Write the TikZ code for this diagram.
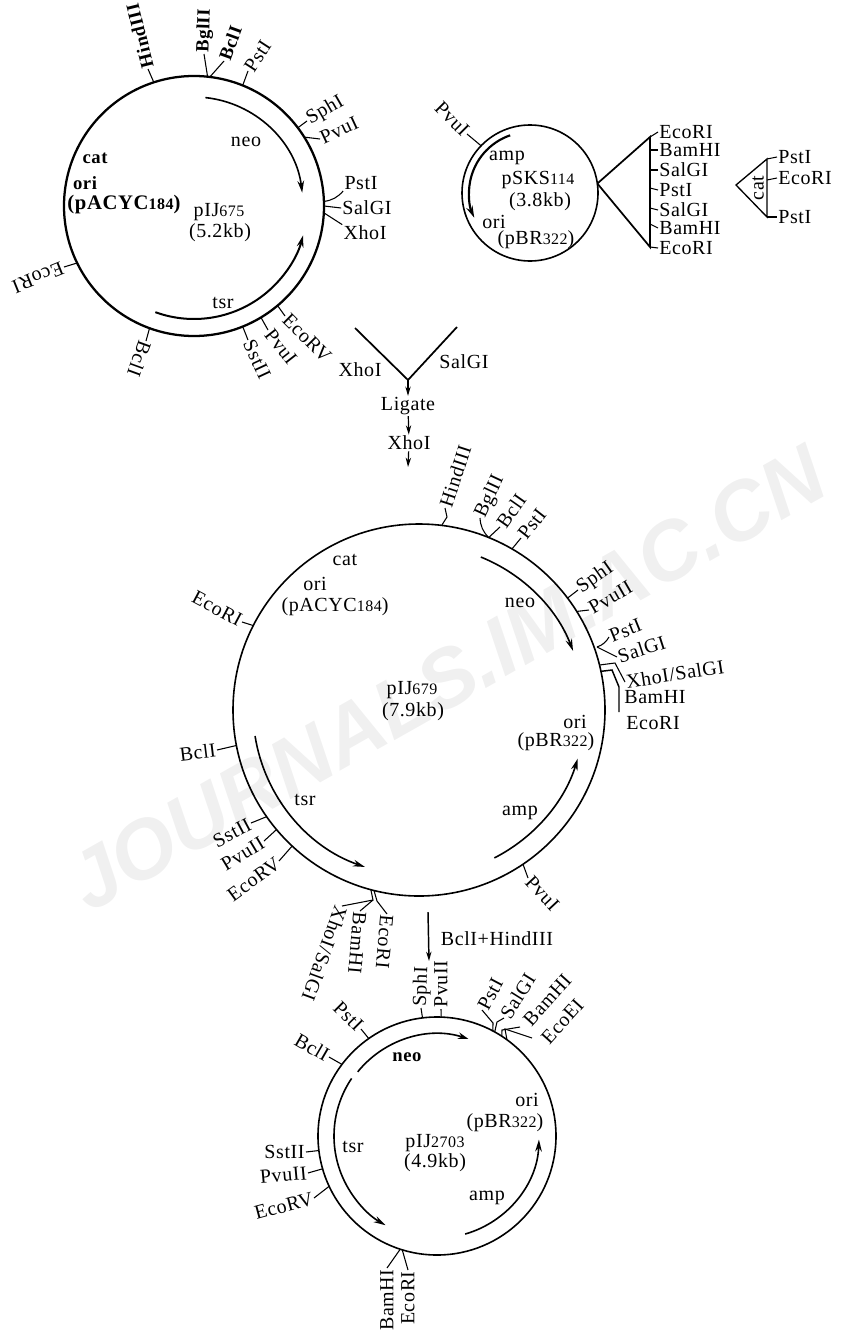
\documentclass[tikz,border=0pt]{standalone}
\usepackage{fontspec}
\setmainfont[LetterSpace=3]{Liberation Serif}
\newfontfamily\wmfont{Liberation Sans}
\usepackage{tikz}
\usetikzlibrary{arrows.meta}

\newcommand{\lowdig}[1]{{\fontsize{12}{12}\selectfont #1}}

\tikzset{
  plasmid/.style={draw, circle, outer sep=0pt, inner sep=0pt, line width=1.2pt},
  site/.style={inner sep=1pt, outer sep=0pt, font=\fontsize{15}{16}\selectfont},
  boldsite/.style={site, font=\fontsize{14}{16}\selectfont\bfseries},
  tick/.style={line width=0.8pt},
  gene/.style={-{Stealth[length=9pt,width=5pt]}, line width=1.2pt},
  stemarrow/.style={-{Stealth[length=7pt,width=4pt]}, line width=0.9pt},
}

\begin{document}
\begin{tikzpicture}[x=0.75pt, y=0.75pt]
  \useasboundingbox (0,0) rectangle (841,-1338);
  \node[rotate=29.5, text=black!6, inner sep=0pt, font=\wmfont\fontsize{62}{62}\selectfont\bfseries\itshape] (wm) at (447,-678) {JOURNALS.IM.AC.CN};

  % pIJ675
  \node[plasmid, line width=1.7pt, minimum size=195pt] (P1) at (194,-206) {};
  \node[boldsite, rotate=104, anchor=west] (P1hind) at (148,-69) {HindIII};
  \node[boldsite, rotate=88, anchor=west] (P1bgl) at (204,-54) {BglII};
  \node[boldsite, rotate=70, anchor=west] (P1bcl) at (224,-61) {BclI};
  \node[site, rotate=57, anchor=west] (P1pst) at (248,-71) {PstI};
  \node[site, rotate=30, anchor=west] (P1sph) at (307,-121) {SphI};
  \node[site, rotate=25, anchor=west] (P1pvu) at (320,-139) {PvuI};
  \node[site] (P1pstb) at (361,-183) {PstI};
  \node[site] (P1sal) at (367,-208) {SalGI};
  \node[site] (P1xho) at (365,-233) {XhoI};
  \node[site, rotate=-45, anchor=west] (P1ecov) at (285,-316) {EcoRV};
  \node[site, rotate=-52, anchor=west] (P1pvub) at (268,-330) {PvuI};
  \node[site, rotate=-65, anchor=west] (P1sst) at (248,-340) {SstII};
  \node[site, rotate=250, anchor=west] (P1bclb) at (146,-341) {BclI};
  \node[site, rotate=202, anchor=west] (P1eco) at (64,-267) {EcoRI};
  \draw[tick] (P1.108) -- (P1hind.west);
  \draw[tick] (P1.84) -- (P1bgl.west);
  \draw[tick] (P1.83) -- (P1bcl.west);
  \draw[tick] (P1.68) -- (P1pst.west);
  \draw[tick] (P1.37) -- (P1sph.west);
  \draw[tick] (P1.32) -- (P1pvu.west);
  \draw[tick] (P1.2) to[bend right=20] (P1pstb.south west);
  \draw[tick] (P1.0) -- (P1sal.west);
  \draw[tick] (P1.-3) -- (P1xho.north west);
  \draw[tick] (P1.-50) -- (P1ecov.west);
  \draw[tick] (P1.-59) -- (P1pvub.west);
  \draw[tick] (P1.-68) -- (P1sst.west);
  \draw[tick] (P1.250) -- (P1bclb.west);
  \draw[tick] (P1.206) -- (P1eco.west);
  \draw[gene] ([shift={(84:109)}]P1.center) arc[start angle=84, end angle=7, radius=109];
  \draw[gene, line width=1.5pt] ([shift={(250:113)}]P1.center) arc[start angle=250, end angle=345, radius=113];
  \node[site] (P1neo) at (246,-142) {neo};
  \node[site] (P1tsr) at (223,-303) {tsr};
  \node[boldsite] (P1cat) at (95,-158) {cat};
  \node[boldsite] (P1ori) at (85,-183) {ori};
  \node[boldsite, font=\fontsize{15.5}{16}\selectfont\bfseries] (P1rep) at (124,-205) {(pACYC\lowdig{184})};
  \node[site] (P1name) at (219,-212) {pIJ\lowdig{675}};
  \node[site] (P1size) at (220,-233) {(5.2kb)};

  % pSKS114
  \node[plasmid, minimum size=102pt] (P2) at (530,-193) {};
  \node[site, rotate=-45, anchor=east] (P2pvu) at (467,-134) {PvuI};
  \draw[tick] (P2.136) -- (P2pvu.east);
  \draw[gene, line width=1.6pt] ([shift={(109:61)}]P2.center) arc[start angle=109, end angle=204, radius=61];
  \node[site] (P2amp) at (507,-158) {amp};
  \node[site] (P2name) at (538,-180) {pSKS\lowdig{114}};
  \node[site] (P2size) at (540,-202) {(3.8kb)};
  \node[site] (P2ori) at (494,-222) {ori};
  \node[site] (P2rep) at (536,-240) {(pBR\lowdig{322})};

  % polylinker of pSKS114
  \coordinate (M1) at (650,-137);
  \coordinate (M2) at (650,-150);
  \coordinate (M3) at (650,-170);
  \coordinate (M4) at (650,-188);
  \coordinate (M5) at (650,-208);
  \coordinate (M6) at (650,-224);
  \coordinate (M7) at (650,-247);
  \node[site, anchor=west] (M1t) at (658,-132) {EcoRI};
  \node[site, anchor=west] (M2t) at (658,-150) {BamHI};
  \node[site, anchor=west] (M3t) at (658,-170) {SalGI};
  \node[site, anchor=west] (M4t) at (658,-190) {PstI};
  \node[site, anchor=west] (M5t) at (658,-210) {SalGI};
  \node[site, anchor=west] (M6t) at (658,-228) {BamHI};
  \node[site, anchor=west] (M7t) at (658,-248) {EcoRI};
  \draw[line width=1.3pt] (P2.8) -- (M1) -- (M7) -- (P2.8);
  \draw[tick] (M1) -- (M1t.west);
  \draw[tick] (M2) -- (M2t.west);
  \draw[tick] (M3) -- (M3t.west);
  \draw[tick] (M4) -- (M4t.west);
  \draw[tick] (M5) -- (M5t.west);
  \draw[tick] (M6) -- (M6t.west);
  \draw[tick] (M7) -- (M7t.west);

  % cat cassette
  \coordinate (C0) at (736,-185);
  \coordinate (C1) at (767,-159);
  \coordinate (C2) at (767,-180);
  \coordinate (C3) at (767,-217);
  \node[site, anchor=west] (C1t) at (777,-157) {PstI};
  \node[site, anchor=west] (C2t) at (777,-178) {EcoRI};
  \node[site, anchor=west] (C3t) at (777,-217) {PstI};
  \node[site, rotate=90] (Ccat) at (758,-188) {cat};
  \draw[line width=1.0pt] (C0) -- (C1) -- (C3) -- cycle;
  \draw[tick] (C1) -- (C1t.west);
  \draw[tick] (C2) -- (C2t.west);
  \draw[tick] (C3) -- (C3t.west);

  % ligation
  \coordinate (Lapex) at (408,-380);
  \coordinate (Lleft) at (355,-328);
  \coordinate (Lright) at (457,-327);
  \coordinate (Lend) at (408,-467);
  \node[site] (Lxhoa) at (360,-370) {XhoI};
  \node[site] (Lsal) at (464,-362) {SalGI};
  \node[site] (Llig) at (408,-406) {Ligate};
  \node[site] (Lxhob) at (409,-443) {XhoI};
  \draw[line width=1.3pt] (Lleft) -- (Lapex) -- (Lright);
  \draw[stemarrow] (Lapex) -- (Llig);
  \draw[stemarrow] (Llig) -- (Lxhob);
  \draw[stemarrow] (Lxhob) -- (Lend);

  % pIJ679
  \node[plasmid, minimum size=279pt] (P3) at (419,-710) {};
  \node[site, rotate=72, anchor=west] (P3hind) at (445,-508) {HindIII};
  \node[site, rotate=65, anchor=west] (P3bgl) at (480,-518) {BglII};
  \node[site, rotate=55, anchor=west] (P3bcl) at (500,-527) {BclI};
  \node[site, rotate=52, anchor=west] (P3pst) at (521,-538) {PstI};
  \node[site, rotate=35, anchor=west] (P3sph) at (578,-590) {SphI};
  \node[site, rotate=30, anchor=west] (P3pvu) at (589,-610) {PvuII};
  \node[site, rotate=22, anchor=west] (P3pstb) at (609,-637) {PstI};
  \node[site, rotate=18, anchor=west] (P3sal) at (617,-657) {SalGI};
  \node[site, rotate=9, anchor=west] (P3xho) at (625,-682) {XhoI/SalGI};
  \node[site, anchor=west] (P3bam) at (623,-697) {BamHI};
  \node[site, anchor=west] (P3ecob) at (625,-723) {EcoRI};
  \node[site, rotate=-47, anchor=west] (P3pvub) at (528,-878) {PvuI};
  \node[site, rotate=-28, anchor=east] (P3eco) at (242,-622) {EcoRI};
  \node[site, rotate=7, anchor=east] (P3bcl2) at (217,-750) {BclI};
  \node[site, rotate=28, anchor=east] (P3sst) at (251,-823) {SstII};
  \node[site, rotate=31, anchor=east] (P3pvuc) at (264,-841) {PvuII};
  \node[site, rotate=36, anchor=east] (P3ecov) at (279,-861) {EcoRV};
  \node[site, rotate=-110, anchor=west] (P3xhob) at (342,-906) {XhoI/SalGI};
  \node[site, rotate=-95, anchor=west] (P3bamb) at (360,-911) {BamHI};
  \node[site, rotate=-95, anchor=west] (P3ecoc) at (387,-914) {EcoRI};
  \coordinate (P3j) at (373,-900);
  \coordinate (P3k) at (377,-901);
  \coordinate (P3sj) at (597,-647);
  \coordinate (P3xa) at (615,-663);
  \coordinate (P3ba) at (612,-670);
  \coordinate (P3bb) at (619,-687);
  \coordinate (P3bc) at (619,-712);
  \draw[tick] (P3.83) -- (447,-517) -- (P3hind.west);
  \draw[tick] (P3.68.5) to[bend left=20] (P3bgl.west);
  \draw[tick] (P3.68.5) -- (P3bcl.west);
  \draw[tick] (P3.60) -- (P3pst.west);
  \draw[tick] (P3.37) -- (P3sph.west);
  \draw[tick] (P3.32) -- (P3pvu.west);
  \draw[tick] (P3sj) to[bend right=20] (P3pstb.west);
  \draw[tick] (P3sj) -- (P3sal.west);
  \draw[tick] (P3.14) -- (P3xa) -- (P3xho.west);
  \draw[line width=1.1pt] (P3.12) -- (P3ba) -- (P3bb) -- (P3bc);
  \draw[tick] (P3.-56) -- (P3pvub.west);
  \draw[tick] (P3.153) -- (P3eco.east);
  \draw[tick] (P3.191) -- (P3bcl2.east);
  \draw[tick] (P3.215) -- (P3sst.east);
  \draw[tick] (P3.220) -- (P3pvuc.east);
  \draw[tick] (P3.227) -- (P3ecov.east);
  \draw[tick] (P3.255.7) -- (P3j) -- (P3xhob.west);
  \draw[tick] (P3j) -- (P3bamb.west);
  \draw[tick] (P3.256.6) -- (P3k) -- (P3ecoc.west);
  \draw[gene] ([shift={(68:165)}]P3.center) arc[start angle=68, end angle=21, radius=165];
  \draw[gene] ([shift={(189:166)}]P3.center) arc[start angle=189, end angle=251, radius=166];
  \draw[gene] ([shift={(-63:166)}]P3.center) arc[start angle=-63, end angle=-17, radius=166];
  \node[site] (P3cat) at (345,-560) {cat};
  \node[site] (P3ori) at (315,-584) {ori};
  \node[site] (P3rep) at (335,-607) {(pACYC\lowdig{184})};
  \node[site] (P3name) at (412,-690) {pIJ\lowdig{679}};
  \node[site] (P3size) at (413,-712) {(7.9kb)};
  \node[site] (P3neo) at (520,-603) {neo};
  \node[site] (P3tsr) at (305,-800) {tsr};
  \node[site] (P3oria) at (575,-722) {ori};
  \node[site] (P3repb) at (556,-742) {(pBR\lowdig{322})};
  \node[site] (P3amp) at (520,-813) {amp};

  % digest
  \coordinate (Dtop) at (428,-912);
  \coordinate (Dend) at (429,-961);
  \node[site] (Dtxt) at (497,-939) {BclI+HindIII};
  \draw[stemarrow, line width=1.1pt] (Dtop) -- (Dend);

  % pIJ2703
  \node[plasmid, minimum size=178.5pt] (P4) at (437,-1136) {};
  \node[site, rotate=-30, anchor=east] (P4bcl) at (329,-1057) {BclI};
  \node[site, rotate=-45, anchor=east] (P4pst) at (361,-1029) {PstI};
  \node[site, rotate=88, anchor=west] (P4sph) at (421,-1008) {SphI};
  \node[site, rotate=90, anchor=west] (P4pvu) at (441,-1009) {PvuII};
  \node[site, rotate=62, anchor=west] (P4pstb) at (482,-1010) {PstI};
  \node[site, rotate=58, anchor=west] (P4sal) at (504,-1018) {SalGI};
  \node[site, rotate=48, anchor=west] (P4bam) at (526,-1024) {BamHI};
  \node[site, rotate=48, anchor=west] (P4eco) at (544,-1042) {EcoEI};
  \node[site, anchor=east] (P4sst) at (306,-1152) {SstII};
  \node[site, rotate=5, anchor=east] (P4pvub) at (308,-1173) {PvuII};
  \node[site, rotate=15, anchor=east] (P4ecov) at (314,-1198) {EcoRV};
  \node[site, rotate=90, anchor=east] (P4bamb) at (387,-1268) {BamHI};
  \node[site, rotate=90, anchor=east] (P4ecob) at (408,-1270) {EcoRI};
  \coordinate (P4ea) at (505,-1029);
  \coordinate (P4eb) at (532,-1038);
  \draw[tick] (P4.143) -- (P4bcl.east);
  \draw[tick] (P4.125.5) -- (P4pst.east);
  \draw[tick] (P4.97.7) -- (P4sph.west);
  \draw[tick] (P4.88) -- (P4pvu.west);
  \draw[tick] (P4.62) -- (493,-1023) -- (P4pstb.west);
  \draw[tick] (P4.61) -- (497,-1022) -- (P4sal.west);
  \draw[tick] (P4.57.5) -- (502,-1030) -- (520,-1027);
  \draw[tick] (P4.54.7) -- (P4ea) -- (P4eb);
  \draw[tick] (P4.187.6) -- (P4sst.east);
  \draw[tick] (P4.196) -- (P4pvub.east);
  \draw[tick] (P4.205.7) -- (P4ecov.east);
  \draw[tick] (P4.252) -- (P4bamb.east);
  \draw[tick] (P4.253.7) -- (P4ecob.east);
  \draw[line width=1.2pt, -{Stealth[open, length=8pt, width=5pt]}] ([shift={(141:102)}]P4.center) arc[start angle=141, end angle=72, radius=102];
  \draw[gene] ([shift={(146:103)}]P4.center) arc[start angle=146, end angle=240, radius=103];
  \draw[gene] ([shift={(-74:102)}]P4.center) arc[start angle=-74, end angle=-2, radius=102];
  \node[boldsite] (P4neo) at (407,-1057) {neo};
  \node[site] (P4tsr) at (353,-1147) {tsr};
  \node[site] (P4name) at (435,-1143) {pIJ\lowdig{2703}};
  \node[site] (P4size) at (435,-1163) {(4.9kb)};
  \node[site] (P4ori) at (527,-1100) {ori};
  \node[site] (P4rep) at (505,-1123) {(pBR\lowdig{322})};
  \node[site] (P4amp) at (487,-1198) {amp};
\end{tikzpicture}
\end{document}
